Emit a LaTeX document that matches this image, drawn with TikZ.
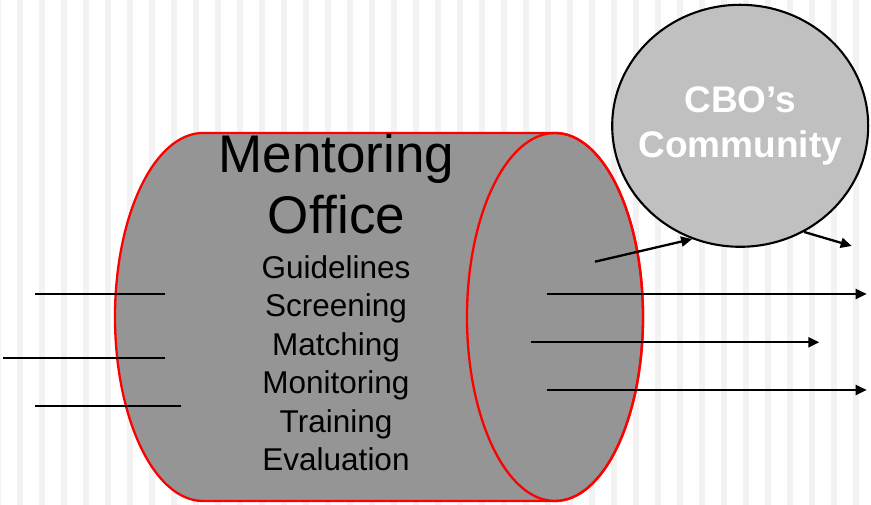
\documentclass[tikz,border=0pt]{standalone}
\usepackage{fontspec}
\setmainfont{Liberation Sans}
\usepackage{tikz}
\usetikzlibrary{arrows.meta, positioning, shapes.geometric}
\definecolor{stripe}{RGB}{242,242,242}
\definecolor{drum}{RGB}{149,149,149}
\definecolor{bubble}{RGB}{192,192,192}

\begin{document}
\begin{tikzpicture}[x=1pt,y=1pt,>={Triangle[length=11pt,width=10pt]},
        flow/.style={line width=2.3pt},
        drumline/.style={draw=red,line width=2.3pt},
        community/.style={ellipse,draw=black,line width=2.1pt,fill=bubble,minimum width=256pt,minimum height=242pt,
            inner xsep=-14pt,inner ysep=0pt,text=white,align=center,font=\bfseries\fontsize{37}{45}\selectfont}]

    \useasboundingbox (0,0) rectangle (871,505);
    \foreach \xs in {-5,17,...,860} \fill[stripe] (\xs,0) rectangle ++(6,505);

    % office drum
    \filldraw[drumline,fill=drum] (203,372) -- (555,372)
        arc[start angle=90,end angle=-90,x radius=88pt,y radius=184pt] -- (203,4)
        arc[start angle=270,end angle=90,x radius=88pt,y radius=184pt] -- cycle;
    \draw[drumline] (555,188) ellipse[x radius=88pt,y radius=184pt];

    \node[align=center,inner sep=0pt,font=\fontsize{53}{61}\selectfont] (office) at (336.5,321) {Mentoring\\Office};
    \node[align=center,inner sep=0pt,font=\fontsize{31.5}{38.5}\selectfont] (tasks) at (336,142)
        {Guidelines\\Screening\\Matching\\Monitoring\\Training\\Evaluation};

    \node[community] (cbo) at (740.2,379.2) {CBO’s\\Community};

    % inputs
    \coordinate (in1) at (35,211.3);   \coordinate (in1e) at (165,211.3);
    \coordinate (in2) at (3,147);      \coordinate (in2e) at (165,147);
    \coordinate (in3) at (35,99.3);    \coordinate (in3e) at (181,99.3);
    \draw[flow] (in1) -- (in1e);
    \draw[flow] (in2) -- (in2e);
    \draw[flow] (in3) -- (in3e);

    % outputs
    \coordinate (toc) at (595,243.3);
    \coordinate (fromc) at (851.7,259);
    \coordinate (out1) at (546.7,211);  \coordinate (out1e) at (866.7,211);
    \coordinate (out2) at (530.7,162.7); \coordinate (out2e) at (819.3,162.7);
    \coordinate (out3) at (546.7,115);  \coordinate (out3e) at (866.7,115);

    \path[->,flow] (toc) edge (cbo.-113)
                   (cbo.-59) edge (fromc)
                   (out1) edge (out1e)
                   (out2) edge (out2e)
                   (out3) edge (out3e);
\end{tikzpicture}
\end{document}
